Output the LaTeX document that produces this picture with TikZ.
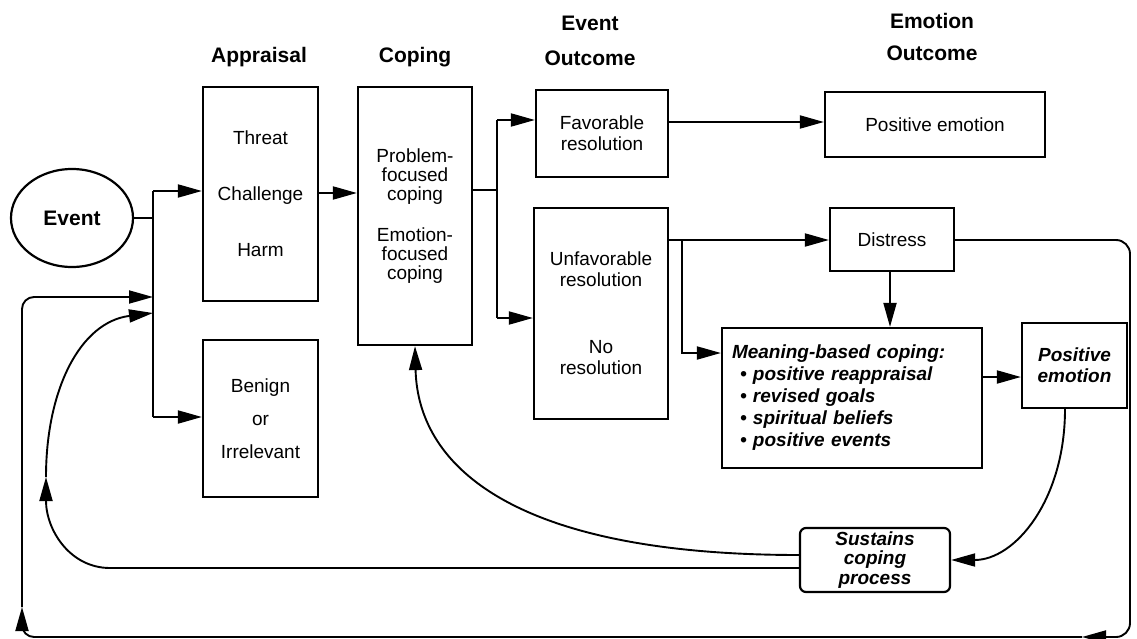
\documentclass[tikz,border=0pt]{standalone}
\usepackage{fontspec}
\setmainfont{Liberation Sans}
\usetikzlibrary{arrows.meta,shapes.geometric}
\begin{document}
\begin{tikzpicture}[x=1pt,y=-1pt,
  box/.style={draw, line width=2.2pt, inner sep=0pt, align=center, font=\fontsize{19}{21}\selectfont},
  ibox/.style={box, font=\fontsize{19}{19.5}\selectfont\bfseries\itshape},
  ttl/.style={font=\fontsize{21}{24}\selectfont\bfseries, align=center},
  ln/.style={line width=1.9pt},
  arr/.style={ln, -{Triangle[length=24pt,width=13pt]}},
]
\useasboundingbox (0,0) rectangle (1137,639);

% titles
\node[ttl] (tA) at (259,57) {Appraisal};
\node[ttl] (tC) at (415,57) {Coping};
\node[ttl] (tE) at (590,41) {Event\\[11pt]Outcome};
\node[ttl] (tEm) at (932,37) {Emotion\\[8pt]Outcome};

% nodes
\node[draw, ellipse, line width=2.2pt, inner sep=0pt, minimum width=122pt, minimum height=98pt,
      font=\fontsize{21}{24}\selectfont\bfseries] (event) at (72,218) {Event};
\node[box, minimum width=115pt, minimum height=214pt] (threat) at (260.5,194)
  {Threat\\[35pt]Challenge\\[35pt]Harm};
\node[box, minimum width=115pt, minimum height=157pt] (benign) at (260.5,418.5)
  {Benign\\[12pt]or\\[12pt]Irrelevant};
\node[box, minimum width=114pt, minimum height=258pt, font=\fontsize{19}{19}\selectfont] (coping) at (415,216)
  {Problem-\\focused\\coping\\[22pt]Emotion-\\focused\\coping};
\node[box, minimum width=132pt, minimum height=87pt] (fav) at (602,133.5)
  {Favorable\\resolution};
\node[box, minimum width=134pt, minimum height=211pt] (unfav) at (601,313.5)
  {Unfavorable\\resolution\\[46pt]No\\resolution};
\node[box, minimum width=220pt, minimum height=65pt] (pos1) at (935,124.5) {Positive emotion};
\node[box, minimum width=124pt, minimum height=63pt] (distress) at (892,239.5) {Distress};
\node[box, minimum width=260pt, minimum height=140pt, align=left, text width=240pt,
      font=\fontsize{19}{22}\selectfont\bfseries\itshape] (meaning) at (852,398)
  {Meaning-based coping:\\
   \hspace*{8pt}\textbullet\ positive reappraisal\\
   \hspace*{8pt}\textbullet\ revised goals\\
   \hspace*{8pt}\textbullet\ spiritual beliefs\\
   \hspace*{8pt}\textbullet\ positive events};
\node[ibox, minimum width=105pt, minimum height=85pt, font=\fontsize{19}{21}\selectfont\bfseries\itshape] (pos2) at (1074.5,365.5)
  {Positive\\emotion};
\node[ibox, rounded corners=6pt, minimum width=150pt, minimum height=64pt] (sus) at (875,560)
  {Sustains\\coping\\process};

% coordinates
\coordinate (b1top) at (153,191);
\coordinate (b1bot) at (153,417);
\coordinate (b1ev) at (153,218);
\coordinate (b1f1) at (153,297);
\coordinate (b1f2) at (153,313);
\coordinate (tc) at (318,193);
\coordinate (b2mid) at (497,190);
\coordinate (b2top) at (497,120);
\coordinate (b2bot) at (497,318);
\coordinate (fp) at (668,122);
\coordinate (ud) at (668,240);
\coordinate (br) at (682,240);
\coordinate (bm) at (682,353);
\coordinate (dm) at (890,300);
\coordinate (mp) at (982,377);
\coordinate (ps) at (1065,413);
\coordinate (l2a) at (110,568);
\coordinate (l2b) at (46,477);
\coordinate (r1) at (1130,240);
\coordinate (r2) at (1130,637);
\coordinate (r3) at (1082,637);
\coordinate (r4) at (22,637);
\coordinate (r5) at (22,607);
\coordinate (r6) at (22,297);

% connectors
\draw[ln] (b1top) -- (b1bot);
\draw[ln] (event.east) -- (b1ev);
\draw[arr] (b1top) -- (threat.west |- b1top);
\draw[arr] (b1bot) -- (benign.west |- b1bot);
\draw[arr] (threat.east |- tc) -- (coping.west |- tc);
\draw[ln] (coping.east |- b2mid) -- (b2mid);
\draw[ln] (b2top) -- (b2bot);
\draw[arr] (b2top) -- (fav.west |- b2top);
\draw[arr] (b2bot) -- (unfav.west |- b2bot);
\draw[arr] (fav.east |- fp) -- (pos1.west |- fp);
\draw[arr] (unfav.east |- ud) -- (distress.west |- ud);
\draw[arr] (br) -- (bm) -- (meaning.west |- bm);
\draw[arr] (distress.south -| dm) -- (meaning.north -| dm);
\draw[arr] (meaning.east |- mp) -- (pos2.west |- mp);
\draw[arr] (pos2.south -| ps) .. controls (1065,500) and (1015,560) .. (sus.east);
\draw[arr] ([yshift=5pt]sus.west) .. controls (520,555) and (418,470) .. (coping.south);
\draw[arr] ([yshift=-8pt]sus.west) -- (l2a) .. controls (70,568) and (46,530) .. (l2b);
\draw[arr] (l2b) .. controls (46,390) and (80,322) .. (b1f2);
\draw[arr, rounded corners=14pt] (distress.east |- r1) -- (r1) -- (r2) -- (r3);
\draw[arr, rounded corners=12pt] (r3) -- (r4) -- (r5);
\draw[arr, rounded corners=12pt] (r5) -- (r6) -- (b1f1);
\end{tikzpicture}
\end{document}
